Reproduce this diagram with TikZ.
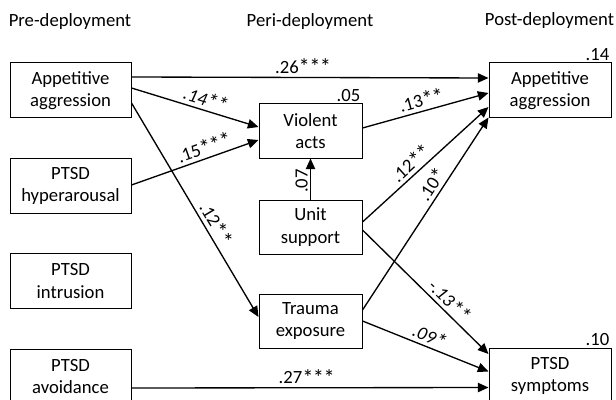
\documentclass[tikz,border=0pt]{standalone}
\usepackage{fontspec}
\usepackage{graphicx}
\setmainfont{Carlito}
\usetikzlibrary{arrows.meta,calc}
\newcommand\sk{\raisebox{-0.2ex}{\scalebox{1.2}{*}}\kern-0.4pt}
\begin{document}
\begin{tikzpicture}[x=0.75pt,y=-0.75pt,
  font=\fontsize{14}{17}\selectfont,
  box/.style={draw, line width=0.75pt, align=center, inner sep=0pt},
  lbox/.style={box, minimum width=90.75pt, minimum height=41.25pt},
  mbox/.style={box, minimum width=77.25pt, minimum height=40.5pt},
  rbox/.style={box, minimum width=91.5pt, minimum height=41.25pt},
  arr/.style={-{Triangle[length=8pt,width=7pt]}, line width=1pt},
  coef/.style={sloped, above, inner sep=1.5pt},
  head/.style={inner sep=0pt},
  rsq/.style={anchor=south east, inner sep=1.5pt}
]
\useasboundingbox (0,0) rectangle (616,399);

% column headings
\node[head] (h1) at (70,22) {Pre-deployment};
\node[head] (h2) at (310,22) {Peri-deployment};
\node[head] (h3) at (549.5,21) {Post-deployment};

% boxes
\node[lbox] (aa1) at (70.5,90.5) {Appetitive\\aggression};
\node[lbox] (hyp) at (70.5,186) {PTSD\\hyperarousal};
\node[lbox] (intr) at (70.5,281) {PTSD\\intrusion};
\node[lbox] (avd) at (70.5,376.5) {PTSD\\avoidance};
\node[mbox] (va) at (310.5,131) {Violent\\acts};
\node[mbox] (us) at (310.5,227) {Unit\\support};
\node[mbox] (te) at (310.5,321) {Trauma\\exposure};
\node[rbox] (aa2) at (550,90.5) {Appetitive\\aggression};
\node[rbox] (ps) at (550,376) {PTSD\\symptoms};

% explained variance
\node[rsq] (r1) at (aa2.north east) {.14};
\node[rsq] (r2) at (va.north east) {.05};
\node[rsq] (r3) at (ps.north east) {.10};

% paths
\draw[arr] ($(aa1.east)+(0,-13.5)$) -- node[above, pos=0.48, inner sep=1.5pt]{.26\sk\sk\sk} ($(aa2.west)+(0,-12.5)$);
\draw[arr] ($(aa1.east)+(0,-2.5)$) -- node[coef, pos=0.56]{\itshape .14\sk\sk} ($(va.west)+(0,-4)$);
\draw[arr] ($(hyp.east)+(0,-1)$) -- node[coef, pos=0.6]{.15\sk\sk\sk} ($(va.west)+(0,9)$);
\draw[arr] ($(aa1.east)+(0,12.5)$) -- node[coef, pos=0.59]{.12\sk\sk} ($(te.west)+(0,-4)$);
\draw[arr] (us.north) -- node[coef, pos=0.45]{.07} (va.south);
\draw[arr] ($(va.east)+(0,-3)$) -- node[coef, pos=0.49]{.13\sk\sk} ($(aa2.west)+(0,2.5)$);
\draw[arr] ($(us.east)+(0,-5)$) -- node[coef, pos=0.44]{.12\sk\sk} ($(aa2.west)+(0,16.5)$);
\draw[arr] ($(te.east)+(0,-11)$) -- node[coef, pos=0.62]{.10\sk} ($(aa2.west)+(0,27)$);
\draw[arr] ($(us.east)+(0,3)$) -- node[coef, pos=0.63]{\itshape -.13\sk\sk} ($(ps.west)+(0,-22)$);
\draw[arr] (te.east) -- node[coef, pos=0.5]{\itshape .09\sk} ($(ps.west)+(0,-4.5)$);
\draw[arr] ($(avd.east)+(0,11.5)$) -- node[above, pos=0.49, inner sep=1.5pt]{.27\sk\sk\sk} ($(ps.west)+(0,11.5)$);
\end{tikzpicture}
\end{document}
